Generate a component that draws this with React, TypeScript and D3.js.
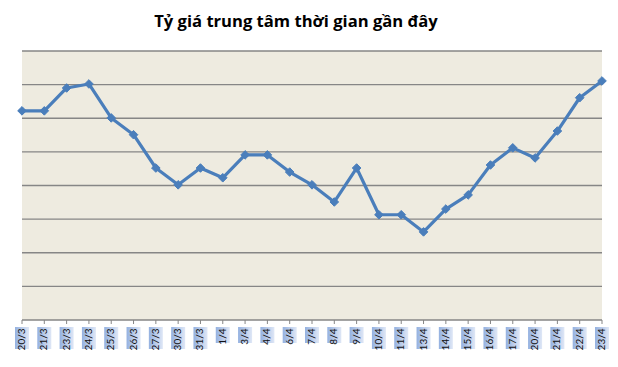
import React from "react";
import * as d3 from "d3";

const categories = ["20/3","21/3","23/3","24/3","25/3","26/3","27/3","30/3","31/3","1/4","3/4","4/4","6/4","7/4","8/4","9/4","10/4","11/4","13/4","14/4","15/4","16/4","17/4","20/4","21/4","22/4","23/4"];
const values = [6.22, 6.22, 6.9, 7.02, 6.01, 5.51, 4.52, 4.02, 4.52, 4.23, 4.91, 4.91, 4.4, 4.02, 3.51, 4.52, 3.13, 3.13, 2.62, 3.3, 3.72, 4.61, 5.12, 4.82, 5.62, 6.61, 7.11];
const gridTicks = [0, 1, 2, 3, 4, 5, 6, 7, 8];
const title = "Tỷ giá trung tâm thời gian gần đây";

const W = 618, H = 367;
const plot = { left: 22, right: 602, top: 51, bottom: 320 };

export default function App() {
  const x = d3.scalePoint<string>().domain(categories).range([plot.left, plot.right]);
  const y = d3.scaleLinear().domain([0, 8]).range([plot.bottom, plot.top]);
  const data = categories.map((c, i) => ({ c, v: values[i] }));
  const line = d3.line<{ c: string; v: number }>().x(d => x(d.c)!).y(d => y(d.v));
  const r = 4.3;
  const diamond = `M0,${-r}L${r},0L0,${r}L${-r},0Z`;

  return (
    <svg width={W} height={H} style={{ position: "fixed", left: 0, top: 0, background: "#fff" }}>
      <defs>
        <linearGradient id="lbl" x1="0" y1="0" x2="0" y2="1">
          <stop offset="0" stopColor="#94b1e0" />
          <stop offset="1" stopColor="#dfe7f6" />
        </linearGradient>
      </defs>
      <text x={296} y={27} textAnchor="middle" fontFamily="'Open Sans', sans-serif" fontWeight="bold" fontSize={16.6} fill="#000">{title}</text>
      <rect x={plot.left} y={plot.top} width={plot.right - plot.left} height={plot.bottom - plot.top} fill="#EEEBE0" />
      {gridTicks.slice(1).map(t => (
        <line key={t} x1={plot.left} x2={plot.right} y1={y(t)} y2={y(t)} stroke="#868686" strokeWidth={1.3} />
      ))}
      <line x1={plot.left} x2={plot.right} y1={plot.bottom} y2={plot.bottom} stroke="#868686" strokeWidth={1.3} />
      {categories.map(c => (
        <line key={c} x1={x(c)} x2={x(c)} y1={plot.bottom} y2={plot.bottom + 4} stroke="#868686" strokeWidth={1} />
      ))}
      {categories.map(c => {
        const bw = c.length >= 4 ? 22 : 16;
        return (
          <g key={c} transform={`translate(${x(c)},327) rotate(-90)`}>
            <rect x={-bw} y={-7} width={bw} height={14} fill="url(#lbl)" />
            <text x={-1.5} y={0.5} textAnchor="end" dominantBaseline="middle" fontFamily="Lato, 'Open Sans', sans-serif" fontSize={10} fill="#111">{c}</text>
          </g>
        );
      })}
      <path d={line(data)!} fill="none" stroke="#4A7EBB" strokeWidth={3.2} strokeLinejoin="round" />
      {data.map(d => (
        <path key={d.c} d={diamond} transform={`translate(${x(d.c)},${y(d.v)})`} fill="#4A7EBB" stroke="#4A7EBB" strokeWidth={1} />
      ))}
    </svg>
  );
}
